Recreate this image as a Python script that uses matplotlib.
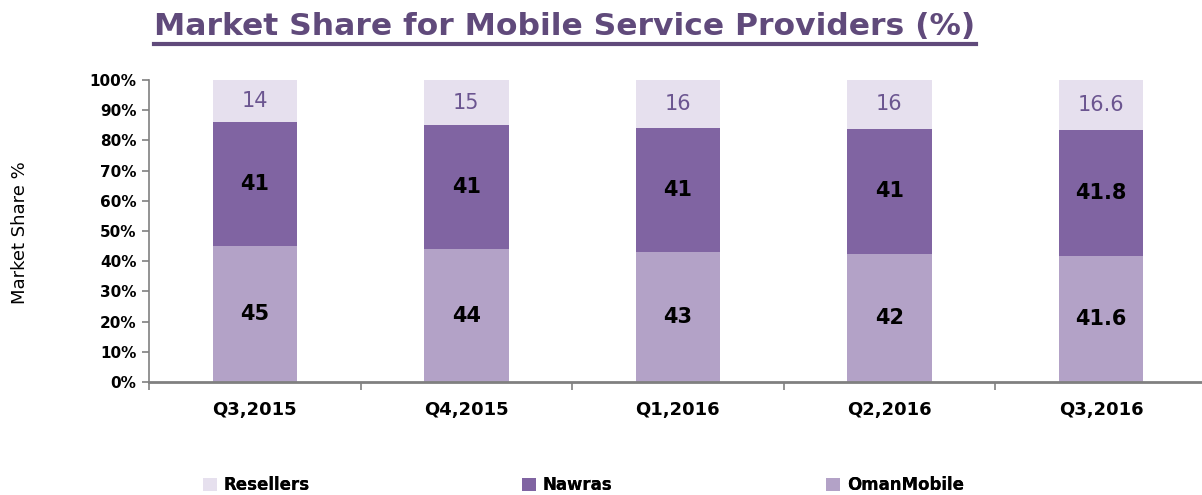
import matplotlib.pyplot as plt
from matplotlib.lines import Line2D
import numpy as np

plt.rcParams['font.family'] = ['DejaVu Sans']

quarters = ['Q3,2015', 'Q4,2015', 'Q1,2016', 'Q2,2016', 'Q3,2016']
oman_mobile = [45, 44, 43, 42, 41.6]
nawras = [41, 41, 41, 41, 41.8]
resellers = [14, 15, 16, 16, 16.6]

series = [('OmanMobile', oman_mobile, '#B3A2C7', 'black', 'bold'),
          ('Nawras', nawras, '#8064A2', 'black', 'bold'),
          ('Resellers', resellers, '#E6E0EE', '#6B5590', 'normal')]

# 100% stacked: normalise each column
totals = np.array(oman_mobile) + np.array(nawras) + np.array(resellers)

fig = plt.figure(figsize=(12.02, 4.95), dpi=100)
ax = fig.add_axes([0.1240, 0.2283, 0.8800, 0.6101])

x = np.arange(len(quarters))
bottom = np.zeros(len(quarters))
bars = {}
for name, vals, color, tcolor, weight in series:
    share = np.array(vals) / totals * 100
    b = ax.bar(x, share, width=0.4, bottom=bottom, color=color, label=name)
    bars[name] = b
    for xi, bi, si, v in zip(x, bottom, share, vals):
        ax.text(xi, bi + si / 2, f'{v:g}', ha='center', va='center',
                fontsize=15, color=tcolor, fontweight=weight)
    bottom = bottom + share

ax.set_xlim(-0.5, len(quarters) - 0.5)
ax.set_ylim(0, 100)
ax.set_yticks(np.arange(0, 101, 10))
ax.set_yticklabels([f'{v}%' for v in range(0, 101, 10)], fontsize=11, fontweight='bold')
ax.tick_params(axis='y', length=5, width=1.2, color='#808080', pad=4)

ax.set_xticks(np.arange(len(quarters) + 1) - 0.5)
ax.set_xticklabels([])
ax.set_xticks(x, minor=True)
ax.set_xticklabels(quarters, minor=True, fontsize=13, fontweight='bold')
ax.tick_params(axis='x', which='major', length=6, width=1.2, color='#808080')
ax.tick_params(axis='x', which='minor', length=0, pad=14)

for s in ['top', 'right']:
    ax.spines[s].set_visible(False)
ax.spines['left'].set_color('#808080')
ax.spines['left'].set_linewidth(1.2)
ax.spines['bottom'].set_color('#808080')
ax.spines['bottom'].set_linewidth(2)

fig.text(0.0166, 0.531, 'Market Share %', rotation=90, ha='center', va='center',
         fontsize=13)

# title with underline
title = fig.text(0.470, 0.947, 'Market Share for Mobile Service Providers (%)',
                 ha='center', va='center', fontsize=22.6, fontweight='bold',
                 color='#604A7B')
fig.canvas.draw()
bb = title.get_window_extent().transformed(fig.transFigure.inverted())
uy = 1 - 44 / 495
fig.add_artist(Line2D([bb.x0, bb.x1], [uy, uy], color='#604A7B', linewidth=3))

# legend entries placed individually (fixed spacing as in the original)
legend_order = ['Resellers', 'Nawras', 'OmanMobile']
legend_x = [203, 522, 826]
for name, lx in zip(legend_order, legend_x):
    lg = fig.legend([bars[name]], [name], loc='center left',
                    bbox_to_anchor=(lx / 1202, 1 - 485 / 495), frameon=False,
                    prop={'weight': 'bold', 'size': 12}, borderpad=0,
                    borderaxespad=0, handlelength=0.85, handleheight=0.85,
                    handletextpad=0.4)
    fig.add_artist(lg)

fig.savefig('out.png', dpi=100)
